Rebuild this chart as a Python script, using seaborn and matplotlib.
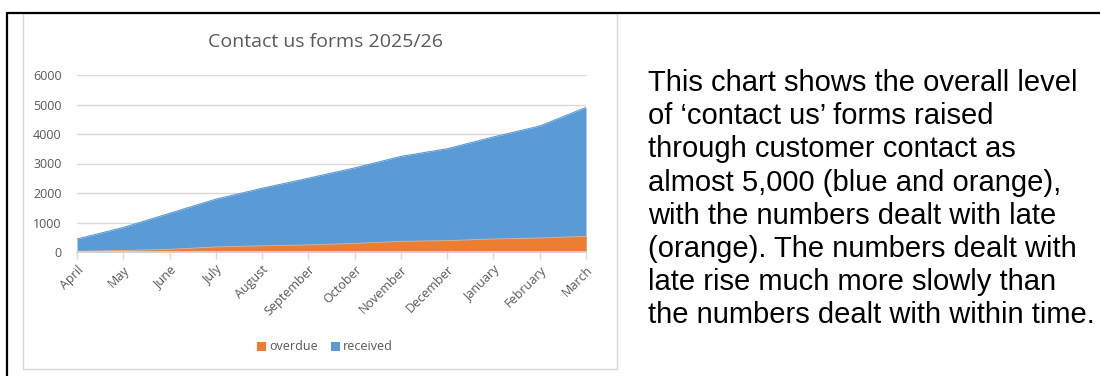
import numpy as np
import pandas as pd
import matplotlib
matplotlib.use("Agg")
import matplotlib.pyplot as plt
import seaborn as sns
from matplotlib.patches import Rectangle, Patch
from matplotlib.lines import Line2D

# data
months = ["April", "May", "June", "July", "August", "September", "October",
          "November", "December", "January", "February", "March"]
received = [440, 830, 1310, 1790, 2160, 2500, 2850, 3240, 3500, 3900, 4270, 4900]
overdue = [25, 50, 90, 170, 210, 240, 290, 360, 385, 440, 475, 530]
y_ticks = [0, 1000, 2000, 3000, 4000, 5000, 6000]

title = "Contact us forms 2025/26"
note_lines = [
    "This chart shows the overall level",
    "of \u2018contact us\u2019 forms raised",
    "through customer contact as",
    "almost 5,000 (blue and orange),",
    "with the numbers dealt with late",
    "(orange). The numbers dealt with",
    "late rise much more slowly than",
    "the numbers dealt with within time.",
]

blue = "#5B9BD5"
orange = "#ED7D31"
grey_txt = "#595959"
grey_line = "#D9D9D9"

sns.set_theme(style="white")
plt.rcParams["font.family"] = ["Open Sans", "DejaVu Sans"]

df = pd.DataFrame({"month": months, "received": received, "overdue": overdue})
df["pos"] = np.arange(len(df))

fig = plt.figure(figsize=(11, 3.76), dpi=100)
ax = fig.add_axes([77 / 1100, 1 - 252 / 376, (586 - 77) / 1100, (252 - 75) / 376])

# received behind, overdue in front
ax.fill_between(df["pos"], 0, df["received"], color=blue, linewidth=0, zorder=2)
ax.fill_between(df["pos"], 0, df["overdue"], color=orange, linewidth=0, zorder=3)
sns.lineplot(data=df, x="pos", y="received", ax=ax, color=blue, linewidth=0.8, zorder=2)
sns.lineplot(data=df, x="pos", y="overdue", ax=ax, color="#F4B183", linewidth=0.6, zorder=3)

ax.set_xlim(0, len(months) - 1)
ax.set_ylim(0, 6000)
ax.set_yticks(y_ticks)
ax.set_xticks(df["pos"])
ax.set_xticklabels(months, rotation=45, ha="right", rotation_mode="anchor")
ax.set_xlabel("")
ax.set_ylabel("")
ax.grid(axis="y", color=grey_line, linewidth=1, zorder=0)
ax.set_axisbelow(True)
for s in ["top", "right", "left"]:
    ax.spines[s].set_visible(False)
ax.spines["bottom"].set_color(grey_line)
ax.spines["bottom"].set_zorder(4)
ax.tick_params(axis="x", colors=grey_line, length=5, width=1, direction="out",
               bottom=True, labelcolor=grey_txt, labelsize=9, pad=3)
ax.tick_params(axis="y", length=0, labelcolor=grey_txt, labelsize=9, pad=11)

fig.text(325 / 1100, 1 - 42 / 376, title, ha="center", va="center",
         fontsize=14, color=grey_txt)

handles = [Patch(facecolor=orange, edgecolor="none", label="overdue"),
           Patch(facecolor=blue, edgecolor="none", label="received")]
fig.legend(handles=handles, loc="center", bbox_to_anchor=(325 / 1100, 1 - 347 / 376),
           ncol=2, frameon=False, fontsize=9, handlelength=0.75, handleheight=0.75,
           handletextpad=0.25, columnspacing=1.0, labelcolor=grey_txt)

# chart frame and page borders
fig.add_artist(Rectangle((22.5 / 1100, 1 - 369 / 376), (617 - 22.5) / 1100, (369 - 13) / 376,
                         transform=fig.transFigure, fill=False, edgecolor=grey_line, linewidth=1))
fig.add_artist(Line2D([7 / 1100, 1], [1 - 13 / 376, 1 - 13 / 376],
                      transform=fig.transFigure, color="black", linewidth=1.6))
fig.add_artist(Line2D([7 / 1100, 7 / 1100], [0, 1 - 13 / 376],
                      transform=fig.transFigure, color="black", linewidth=1.6))

for i, line in enumerate(note_lines):
    fig.text(648 / 1100, 1 - (83 + 33.2 * i) / 376, line, ha="left", va="center",
             fontsize=21, color="black", family=["Liberation Sans", "DejaVu Sans"])

fig.savefig("out.png", dpi=100, facecolor="white")
